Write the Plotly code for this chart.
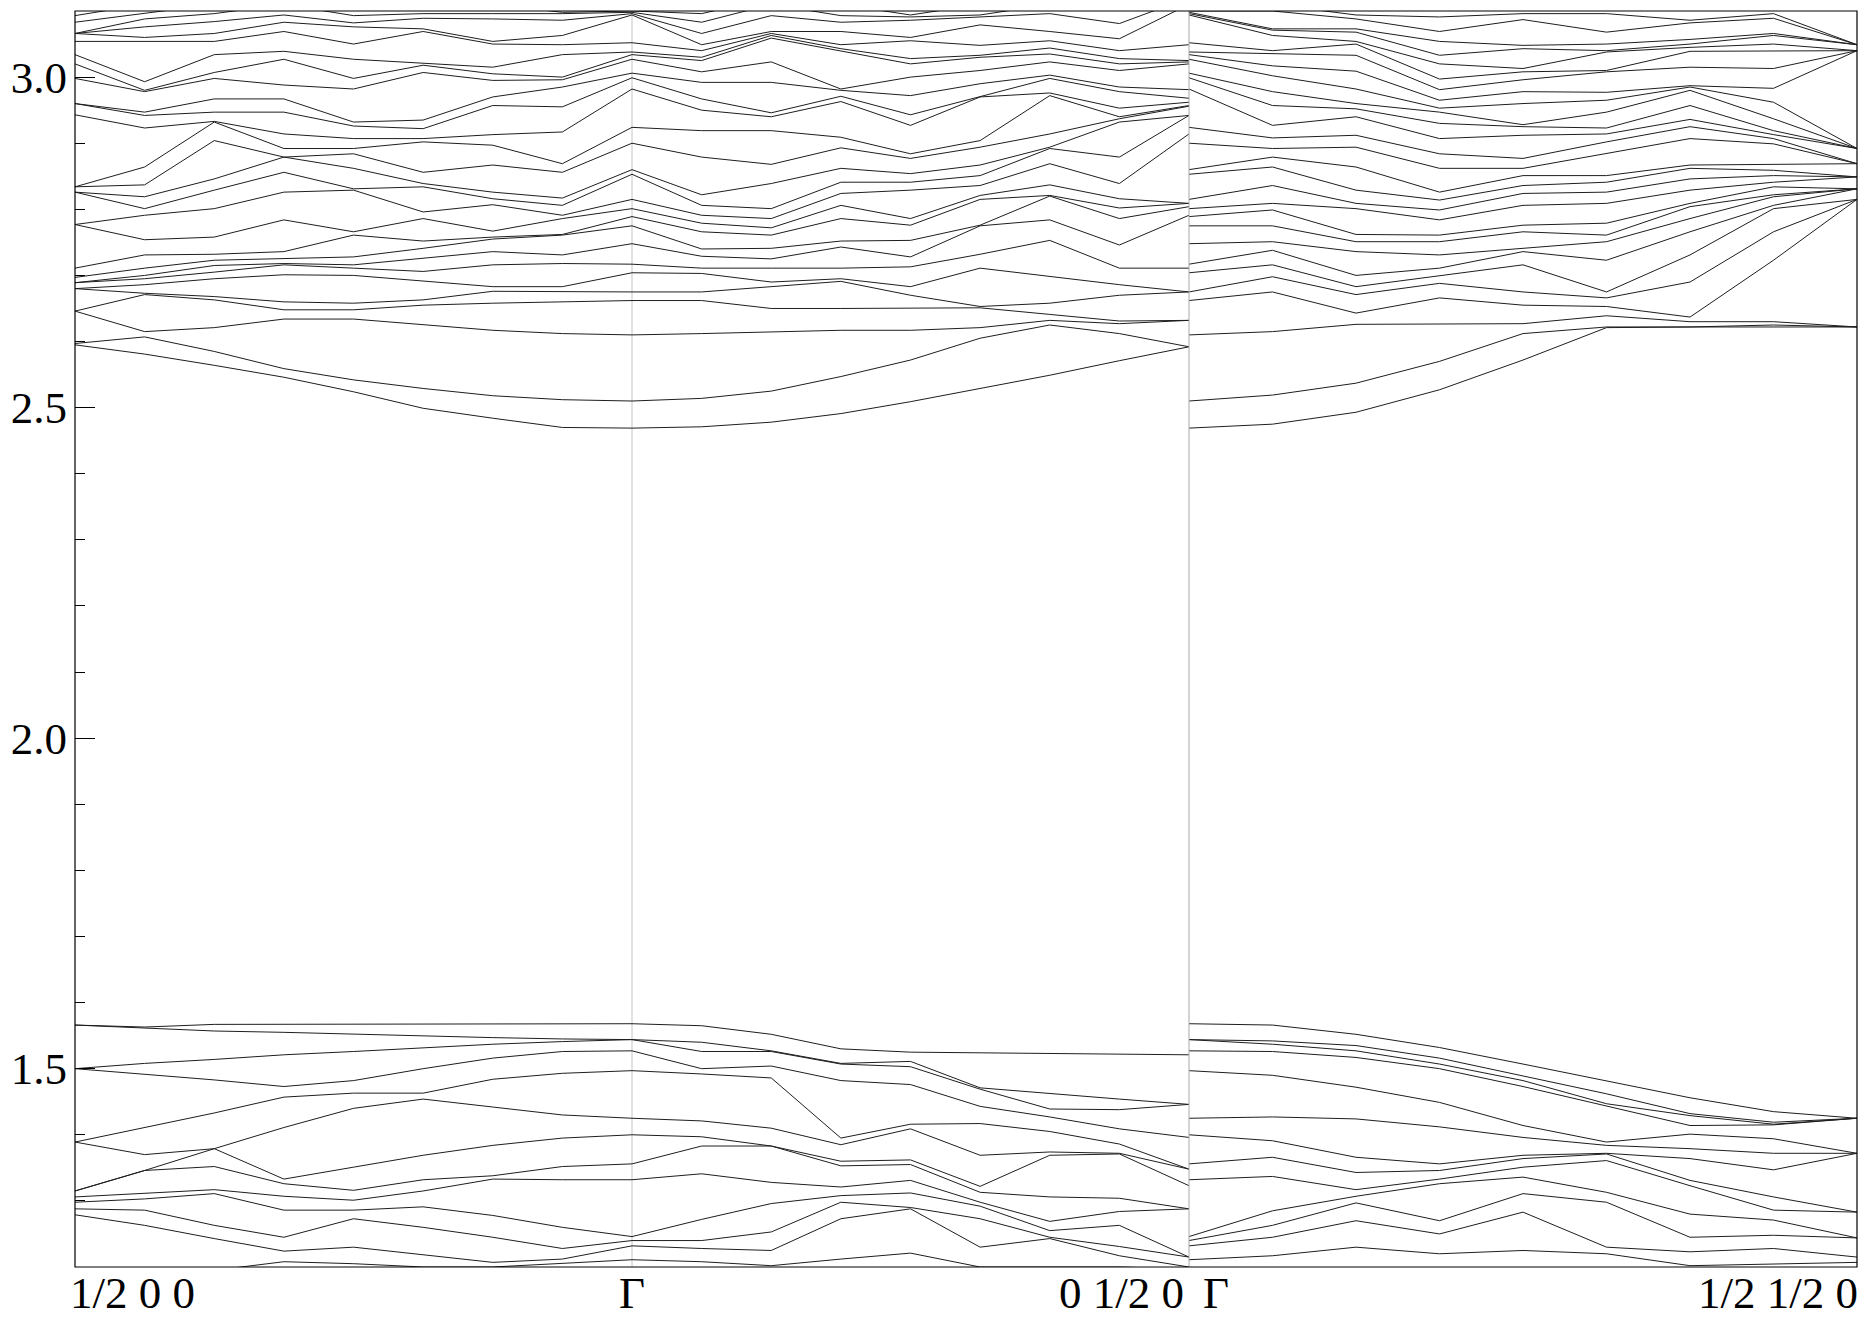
import plotly.graph_objects as go

# ---------------- data (energies at each k-point column) ----------------
K_LEFT = list(range(17))   # 1/2 0 0 -> Gamma -> 0 1/2 0
K_RIGHT = list(range(9))   # Gamma -> 1/2 1/2 0

# upper band group, path 1/2 0 0 -> Gamma (columns k0..k7)
UP_XG_0 = [3.093, 3.083, 3.066, 3.066, 3.066, 3.054, 3.034, 3.020, 2.998, 2.960, 2.960, 2.943, 2.834, 2.834, 2.826, 2.826, 2.777, 2.777, 2.711, 2.697, 2.689, 2.689, 2.680, 2.680, 2.646, 2.646, 2.597, 2.595]
UP_XG_1 = [3.11, 3.096, 3.088, 3.076, 3.060, 3.054, 2.993, 2.980, 2.978, 2.947, 2.942, 2.923, 2.864, 2.837, 2.819, 2.801, 2.791, 2.754, 2.731, 2.711, 2.700, 2.695, 2.686, 2.673, 2.671, 2.615, 2.607, 2.581]
UP_XG_2 = [3.12, 3.11, 3.096, 3.084, 3.066, 3.054, 3.034, 3.007, 2.998, 2.967, 2.947, 2.933, 2.932, 2.904, 2.846, 2.829, 2.801, 2.758, 2.732, 2.723, 2.715, 2.705, 2.695, 2.668, 2.663, 2.621, 2.585, 2.564]
UP_XG_3 = [3.13, 3.12, 3.11, 3.094, 3.083, 3.069, 3.039, 3.027, 2.988, 2.967, 2.947, 2.914, 2.892, 2.879, 2.879, 2.856, 2.826, 2.784, 2.736, 2.726, 2.718, 2.716, 2.701, 2.660, 2.648, 2.634, 2.559, 2.546]
UP_XG_4 = [3.12, 3.11, 3.093, 3.082, 3.076, 3.050, 3.027, 2.998, 2.982, 2.932, 2.926, 2.907, 2.892, 2.884, 2.862, 2.831, 2.829, 2.766, 2.761, 2.728, 2.716, 2.711, 2.700, 2.658, 2.648, 2.634, 2.542, 2.524]
UP_XG_5 = [3.12, 3.11, 3.096, 3.089, 3.073, 3.069, 3.021, 3.018, 3.007, 2.935, 2.922, 2.907, 2.902, 2.856, 2.839, 2.834, 2.796, 2.786, 2.752, 2.741, 2.726, 2.706, 2.691, 2.663, 2.655, 2.625, 2.529, 2.499]
UP_XG_6 = [3.12, 3.11, 3.096, 3.088, 3.054, 3.050, 3.015, 3.005, 2.995, 2.970, 2.957, 2.913, 2.897, 2.867, 2.826, 2.816, 2.807, 2.767, 2.758, 2.755, 2.736, 2.716, 2.683, 2.676, 2.658, 2.617, 2.518, 2.484]
UP_XG_7 = [3.11, 3.098, 3.096, 3.086, 3.063, 3.049, 3.034, 3.000, 2.996, 2.985, 2.955, 2.917, 2.869, 2.856, 2.817, 2.806, 2.791, 2.786, 2.762, 2.761, 2.731, 2.718, 2.683, 2.675, 2.660, 2.612, 2.512, 2.470]
# upper band group at Gamma
UP_GAMMA = [3.102, 3.100, 3.098, 3.096, 3.094, 3.052, 3.038, 3.034, 3.027, 3.006, 2.999, 2.982, 2.924, 2.900, 2.860, 2.853, 2.815, 2.801, 2.789, 2.775, 2.748, 2.717, 2.704, 2.675, 2.662, 2.610, 2.510, 2.469]
# upper band group, path Gamma -> 0 1/2 0 (columns k1..k8)
UP_GY_1 = [3.11, 3.096, 3.083, 3.066, 3.049, 3.040, 3.030, 3.025, 3.008, 2.992, 2.967, 2.950, 2.919, 2.879, 2.822, 2.806, 2.791, 2.779, 2.766, 2.740, 2.729, 2.711, 2.703, 2.675, 2.662, 2.612, 2.514, 2.471]
UP_GY_2 = [3.13, 3.12, 3.11, 3.093, 3.069, 3.066, 3.063, 3.059, 3.023, 2.992, 2.946, 2.940, 2.919, 2.868, 2.839, 2.801, 2.786, 2.772, 2.761, 2.741, 2.725, 2.711, 2.690, 2.683, 2.650, 2.615, 2.525, 2.478]
UP_GY_3 = [3.12, 3.11, 3.093, 3.083, 3.069, 3.049, 3.043, 3.039, 2.982, 2.980, 2.971, 2.963, 2.909, 2.893, 2.862, 2.841, 2.824, 2.806, 2.786, 2.752, 2.743, 2.711, 2.695, 2.691, 2.650, 2.617, 2.547, 2.491]
UP_GY_4 = [3.11, 3.094, 3.091, 3.086, 3.060, 3.055, 3.028, 3.020, 3.000, 2.972, 2.943, 2.927, 2.884, 2.877, 2.854, 2.841, 2.829, 2.786, 2.776, 2.753, 2.728, 2.713, 2.683, 2.670, 2.650, 2.617, 2.572, 2.509]
UP_GY_5 = [3.12, 3.11, 3.094, 3.091, 3.079, 3.048, 3.033, 3.030, 3.010, 2.990, 2.970, 2.970, 2.904, 2.894, 2.867, 2.851, 2.836, 2.821, 2.815, 2.776, 2.775, 2.732, 2.711, 2.653, 2.651, 2.621, 2.605, 2.529]
UP_GY_6 = [3.13, 3.12, 3.11, 3.096, 3.069, 3.055, 3.044, 3.035, 3.023, 3.003, 2.998, 2.976, 2.972, 2.914, 2.894, 2.892, 2.869, 2.837, 2.821, 2.820, 2.784, 2.753, 2.698, 2.658, 2.641, 2.632, 2.625, 2.549]
UP_GY_7 = [3.13, 3.12, 3.11, 3.081, 3.058, 3.040, 3.028, 3.020, 3.010, 2.985, 2.978, 2.953, 2.940, 2.937, 2.932, 2.879, 2.839, 2.816, 2.802, 2.786, 2.746, 2.711, 2.686, 2.670, 2.631, 2.627, 2.612, 2.571]
UP_GY_8 = [3.15, 3.14, 3.13, 3.12, 3.11, 3.049, 3.025, 3.023, 3.020, 2.981, 2.968, 2.962, 2.957, 2.956, 2.942, 2.942, 2.914, 2.809, 2.809, 2.804, 2.791, 2.711, 2.675, 2.675, 2.632, 2.632, 2.592, 2.592]
# upper band group, path Gamma -> 1/2 1/2 0 (columns k1..k8)
UP_GM_1 = [3.11, 3.10, 3.073, 3.071, 3.063, 3.040, 3.035, 3.017, 3.002, 2.978, 2.957, 2.927, 2.908, 2.892, 2.879, 2.864, 2.836, 2.809, 2.799, 2.775, 2.751, 2.738, 2.716, 2.698, 2.675, 2.615, 2.519, 2.475]
UP_GM_2 = [3.094, 3.088, 3.073, 3.068, 3.054, 3.050, 3.033, 3.009, 2.982, 2.960, 2.952, 2.940, 2.912, 2.894, 2.864, 2.829, 2.809, 2.801, 2.762, 2.751, 2.736, 2.700, 2.683, 2.671, 2.643, 2.626, 2.537, 2.493]
UP_GM_3 = [3.091, 3.069, 3.054, 3.033, 3.020, 2.997, 2.981, 2.965, 2.953, 2.947, 2.930, 2.907, 2.884, 2.862, 2.826, 2.814, 2.799, 2.784, 2.761, 2.751, 2.731, 2.711, 2.700, 2.688, 2.666, 2.627, 2.570, 2.527]
UP_GM_4 = [3.096, 3.087, 3.048, 3.043, 3.013, 3.008, 2.996, 2.978, 2.960, 2.928, 2.925, 2.912, 2.877, 2.862, 2.851, 2.836, 2.824, 2.806, 2.776, 2.766, 2.741, 2.736, 2.716, 2.675, 2.655, 2.627, 2.612, 2.572]
UP_GM_5 = [3.096, 3.068, 3.050, 3.040, 3.038, 3.010, 3.008, 2.977, 2.965, 2.947, 2.923, 2.914, 2.902, 2.884, 2.851, 2.841, 2.826, 2.809, 2.779, 2.761, 2.751, 2.723, 2.675, 2.666, 2.653, 2.639, 2.622, 2.621]
UP_GM_6 = [3.086, 3.082, 3.057, 3.050, 3.045, 3.039, 3.015, 2.987, 2.985, 2.980, 2.957, 2.936, 2.925, 2.907, 2.867, 2.862, 2.846, 2.829, 2.809, 2.804, 2.786, 2.766, 2.731, 2.690, 2.637, 2.630, 2.622, 2.622]
UP_GM_7 = [3.096, 3.089, 3.066, 3.063, 3.050, 3.040, 3.013, 2.983, 2.962, 2.937, 2.919, 2.913, 2.907, 2.899, 2.868, 2.859, 2.851, 2.841, 2.834, 2.822, 2.819, 2.806, 2.801, 2.766, 2.723, 2.630, 2.625, 2.622]
UP_GM_8 = [3.049, 3.049, 3.049, 3.049, 3.040, 3.040, 3.040, 3.040, 2.892, 2.892, 2.892, 2.892, 2.869, 2.869, 2.869, 2.849, 2.849, 2.849, 2.831, 2.831, 2.831, 2.831, 2.815, 2.815, 2.815, 2.622, 2.622, 2.622]

# lower band group, path 1/2 0 0 -> Gamma (k0..k7)
LO_XG_0 = [1.566, 1.566, 1.500, 1.500, 1.389, 1.389, 1.315, 1.315, 1.306, 1.298, 1.288, 1.279, 1.190]
LO_XG_1 = [1.563, 1.561, 1.508, 1.492, 1.411, 1.370, 1.346, 1.346, 1.311, 1.303, 1.286, 1.263, 1.190]
LO_XG_2 = [1.567, 1.557, 1.514, 1.483, 1.433, 1.379, 1.379, 1.352, 1.317, 1.311, 1.263, 1.243, 1.195]
LO_XG_3 = [1.567, 1.555, 1.521, 1.473, 1.457, 1.411, 1.333, 1.326, 1.307, 1.286, 1.245, 1.224, 1.208]
LO_XG_4 = [1.568, 1.552, 1.526, 1.482, 1.463, 1.440, 1.351, 1.316, 1.301, 1.286, 1.273, 1.230, 1.205]
LO_XG_5 = [1.568, 1.550, 1.532, 1.500, 1.463, 1.454, 1.369, 1.332, 1.315, 1.291, 1.260, 1.218, 1.200]
LO_XG_6 = [1.568, 1.547, 1.537, 1.516, 1.484, 1.442, 1.384, 1.338, 1.333, 1.278, 1.245, 1.207, 1.200]
LO_XG_7 = [1.568, 1.545, 1.541, 1.526, 1.493, 1.430, 1.395, 1.352, 1.332, 1.260, 1.228, 1.212, 1.205]
LO_GAMMA = [1.568, 1.544, 1.544, 1.527, 1.497, 1.425, 1.400, 1.356, 1.332, 1.246, 1.240, 1.232, 1.211]
# lower band group, Gamma -> 0 1/2 0 (k1..k8)
LO_GY_1 = [1.565, 1.540, 1.526, 1.500, 1.492, 1.421, 1.397, 1.383, 1.341, 1.272, 1.240, 1.228, 1.208]
LO_GY_2 = [1.552, 1.527, 1.526, 1.504, 1.486, 1.410, 1.383, 1.383, 1.328, 1.296, 1.253, 1.225, 1.202]
LO_GY_3 = [1.530, 1.508, 1.507, 1.482, 1.395, 1.385, 1.360, 1.353, 1.321, 1.308, 1.298, 1.273, 1.212]
LO_GY_4 = [1.525, 1.511, 1.503, 1.476, 1.416, 1.409, 1.362, 1.355, 1.331, 1.312, 1.290, 1.288, 1.221]
LO_GY_5 = [1.524, 1.471, 1.469, 1.443, 1.417, 1.369, 1.322, 1.313, 1.298, 1.292, 1.273, 1.230, 1.200]
LO_GY_6 = [1.523, 1.462, 1.439, 1.427, 1.405, 1.374, 1.369, 1.306, 1.269, 1.255, 1.245, 1.243, 1.200]
LO_GY_7 = [1.522, 1.454, 1.438, 1.409, 1.386, 1.372, 1.371, 1.304, 1.284, 1.263, 1.231, 1.217, 1.200]
LO_GY_8 = [1.521, 1.446, 1.446, 1.396, 1.348, 1.348, 1.323, 1.288, 1.288, 1.215, 1.215, 1.200, 1.197]
# lower band group, Gamma -> 1/2 1/2 0 (k1..k8)
LO_GM_1 = [1.566, 1.542, 1.537, 1.526, 1.490, 1.427, 1.391, 1.366, 1.337, 1.285, 1.263, 1.245, 1.217]
LO_GM_2 = [1.552, 1.535, 1.527, 1.517, 1.472, 1.424, 1.366, 1.343, 1.317, 1.307, 1.297, 1.270, 1.230]
LO_GM_3 = [1.532, 1.516, 1.507, 1.500, 1.449, 1.412, 1.356, 1.346, 1.333, 1.326, 1.270, 1.250, 1.220]
LO_GM_4 = [1.507, 1.489, 1.482, 1.473, 1.414, 1.396, 1.369, 1.364, 1.351, 1.336, 1.311, 1.283, 1.225]
LO_GM_5 = [1.482, 1.462, 1.447, 1.444, 1.389, 1.384, 1.372, 1.371, 1.361, 1.313, 1.298, 1.230, 1.220]
LO_GM_6 = [1.456, 1.432, 1.429, 1.414, 1.401, 1.379, 1.364, 1.331, 1.323, 1.280, 1.245, 1.223, 1.202]
LO_GM_7 = [1.435, 1.419, 1.416, 1.415, 1.394, 1.372, 1.347, 1.306, 1.286, 1.271, 1.248, 1.228, 1.205]
LO_GM_8 = [1.425, 1.425, 1.425, 1.425, 1.372, 1.372, 1.372, 1.283, 1.283, 1.244, 1.244, 1.215, 1.207]

X_LABELS = ["1/2 0 0", "\u0393", "0 1/2 0", "\u0393", "1/2 1/2 0"]
Y_RANGE = [1.2, 3.1]

# ---------------- build ----------------
UP_LEFT = [UP_XG_0, UP_XG_1, UP_XG_2, UP_XG_3, UP_XG_4, UP_XG_5, UP_XG_6, UP_XG_7, UP_GAMMA,
           UP_GY_1, UP_GY_2, UP_GY_3, UP_GY_4, UP_GY_5, UP_GY_6, UP_GY_7, UP_GY_8]
UP_RIGHT = [UP_GAMMA, UP_GM_1, UP_GM_2, UP_GM_3, UP_GM_4, UP_GM_5, UP_GM_6, UP_GM_7, UP_GM_8]
LO_LEFT = [LO_XG_0, LO_XG_1, LO_XG_2, LO_XG_3, LO_XG_4, LO_XG_5, LO_XG_6, LO_XG_7, LO_GAMMA,
           LO_GY_1, LO_GY_2, LO_GY_3, LO_GY_4, LO_GY_5, LO_GY_6, LO_GY_7, LO_GY_8]
LO_RIGHT = [LO_GAMMA, LO_GM_1, LO_GM_2, LO_GM_3, LO_GM_4, LO_GM_5, LO_GM_6, LO_GM_7, LO_GM_8]


def band_trace(columns, kvals, xaxis):
    cols = [sorted(c, reverse=True) for c in columns]
    n = min(len(c) for c in cols)
    xs, ys = [], []
    for i in range(n):
        xs += list(kvals) + [None]
        ys += [c[i] for c in cols] + [None]
    return go.Scatter(x=xs, y=ys, mode="lines", xaxis=xaxis, yaxis="y",
                      line=dict(color="#1e1e1e", width=1),
                      hoverinfo="skip", showlegend=False)


fig = go.Figure()
fig.add_trace(band_trace(UP_LEFT, K_LEFT, "x"))
fig.add_trace(band_trace(LO_LEFT, K_LEFT, "x"))
fig.add_trace(band_trace(UP_RIGHT, K_RIGHT, "x2"))
fig.add_trace(band_trace(LO_RIGHT, K_RIGHT, "x2"))

W, H = 1865, 1321
ML, MR, MT, MB = 75, 8, 11, 54
D = (1189 - ML) / (W - ML - MR)

FONT = "Liberation Serif, Times New Roman, serif"

fig.update_layout(
    width=W, height=H,
    margin=dict(l=ML, r=MR, t=MT, b=MB, pad=0),
    paper_bgcolor="white", plot_bgcolor="white",
    font=dict(family=FONT, size=45, color="black"),
    xaxis=dict(domain=[0, D], range=[0, 16], showticklabels=False, ticks="",
               showgrid=False, zeroline=False, showline=False, anchor="y"),
    xaxis2=dict(domain=[D, 1], range=[0, 8], showticklabels=False, ticks="",
                showgrid=False, zeroline=False, showline=False, anchor="y"),
    yaxis=dict(range=Y_RANGE, tick0=0, dtick=0.5, tickformat=".1f",
               ticks="inside", ticklen=20, tickwidth=1, tickcolor="black",
               minor=dict(dtick=0.1, tick0=0, ticks="inside", ticklen=10,
                          tickwidth=1, tickcolor="black", showgrid=False),
               showgrid=False, zeroline=False, showline=False,
               tickfont=dict(family=FONT, size=45, color="black"),
               ticklabelstandoff=7, anchor="x"),
    shapes=[
        dict(type="line", xref="x", yref="paper", x0=8, x1=8, y0=0, y1=1,
             line=dict(color="#c4c4c4", width=1), layer="below"),
        dict(type="line", xref="paper", yref="paper", x0=D, x1=D, y0=0, y1=1,
             line=dict(color="#a8a8a8", width=1), layer="above"),
        dict(type="rect", xref="paper", yref="paper", x0=0, x1=1, y0=0, y1=1,
             line=dict(color="black", width=1.2), layer="above"),
    ],
)

label_specs = [
    dict(xref="paper", x=0, xanchor="left", xshift=-7),
    dict(xref="x", x=8, xanchor="center", xshift=0),
    dict(xref="paper", x=D, xanchor="right", xshift=-3),
    dict(xref="paper", x=D, xanchor="left", xshift=12),
    dict(xref="paper", x=1, xanchor="right", xshift=3),
]
for txt, spec in zip(X_LABELS, label_specs):
    fig.add_annotation(text=txt, yref="paper", y=0, yanchor="top", yshift=1,
                       showarrow=False, font=dict(family=FONT, size=45, color="black"),
                       **spec)

fig.write_html("out.html", config={"displayModeBar": False},
               post_script="document.body.style.margin='0';")
